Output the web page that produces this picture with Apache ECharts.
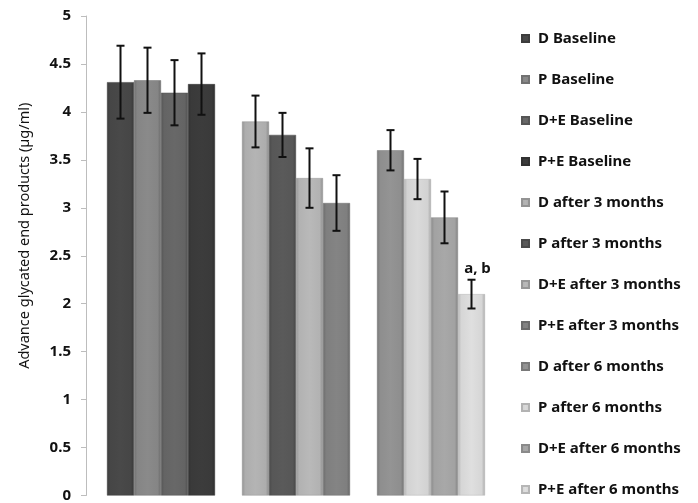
<!DOCTYPE html>
<html>
<head>
<meta charset="utf-8">
<script src="https://cdn.jsdelivr.net/npm/echarts@6/dist/echarts.min.js"></script>
<style>html,body{margin:0;padding:0;background:#fff}#c{width:698px;height:503px}</style>
</head>
<body>
<div id="c"></div>
<script>
// ---- data ----
const categories = ['Baseline', 'After 3 months', 'After 6 months'];
const seriesNames = [
  'D Baseline', 'P Baseline', 'D+E Baseline', 'P+E Baseline',
  'D after 3 months', 'P after 3 months', 'D+E after 3 months', 'P+E after 3 months',
  'D after 6 months', 'P after 6 months', 'D+E after 6 months', 'P+E after 6 months'
];
const means = [4.31, 4.33, 4.20, 4.29, 3.90, 3.76, 3.31, 3.05, 3.60, 3.30, 2.90, 2.10];
const errors = [0.38, 0.34, 0.34, 0.32, 0.27, 0.23, 0.31, 0.29, 0.21, 0.21, 0.27, 0.15];
const notes = ['', '', '', '', '', '', '', '', '', '', '', 'a, b'];
const yTicks = { min: 0, max: 5, interval: 0.5 };

// ---- style ----
const baseColors = ['#464646', '#858585', '#646464', '#3a3a3a',
                    '#adadad', '#575757', '#b2b2b2', '#7f7f7f',
                    '#8e8e8e', '#d2d2d2', '#a2a2a2', '#d6d6d6'];
function shade(hex, f) {
  const n = parseInt(hex.slice(1), 16);
  let r = (n >> 16) & 255, g = (n >> 8) & 255, b = n & 255;
  r = Math.max(0, Math.min(255, Math.round(r * f)));
  g = Math.max(0, Math.min(255, Math.round(g * f)));
  b = Math.max(0, Math.min(255, Math.round(b * f)));
  return 'rgb(' + r + ',' + g + ',' + b + ')';
}
function grad(hex) {
  return new echarts.graphic.LinearGradient(0, 0, 1, 0, [
    { offset: 0, color: shade(hex, 0.85) },
    { offset: 0.12, color: shade(hex, 1.0) },
    { offset: 0.5, color: shade(hex, 1.04) },
    { offset: 0.88, color: shade(hex, 1.0) },
    { offset: 1, color: shade(hex, 0.8) }
  ]);
}

const nGroup = 4;
const barSeries = seriesNames.map((name, i) => {
  const cat = Math.floor(i / nGroup);
  const slot = i % nGroup;
  const data = categories.map((c, j) => (j === cat ? means[i] : null));
  return {
    name: name,
    type: 'bar',
    stack: 'slot' + slot,
    data: data,
    barGap: '0%',
    barCategoryGap: '20%',
    itemStyle: { color: grad(baseColors[i]), borderColor: shade(baseColors[i], 0.85), borderWidth: 0.5 },
    emphasis: { disabled: true }
  };
});

const errData = seriesNames.map((n, i) => [Math.floor(i / nGroup), means[i], errors[i], i % nGroup, i]);

const errSeries = {
  type: 'custom',
  name: 'err',
  data: errData,
  z: 10,
  renderItem: function (params, api) {
    const cat = api.value(0), m = api.value(1), e = api.value(2), slot = api.value(3), idx = api.value(4);
    const c = api.coord([cat, m]);
    const catW = api.size([1, 0])[0];
    const barW = catW * 0.8 / nGroup;
    const x = c[0] + (slot - (nGroup - 1) / 2) * barW;
    const top = api.coord([cat, m + e])[1];
    const bot = api.coord([cat, m - e])[1];
    const cap = 4;
    const st = { stroke: '#111', lineWidth: 2 };
    const children = [
      { type: 'line', shape: { x1: x, y1: top, x2: x, y2: bot }, style: st },
      { type: 'line', shape: { x1: x - cap, y1: top, x2: x + cap, y2: top }, style: st },
      { type: 'line', shape: { x1: x - cap, y1: bot, x2: x + cap, y2: bot }, style: st }
    ];
    const note = notes[idx];
    if (note) {
      children.push({
        type: 'text',
        style: { text: note, x: x + 6, y: top - 3, textAlign: 'center', textVerticalAlign: 'bottom',
                 font: 'bold 15px "Noto Sans", Arial, sans-serif', fill: '#111' }
      });
    }
    return { type: 'group', children: children };
  }
};

const chart = echarts.init(document.getElementById('c'), null, { renderer: 'canvas' });
chart.setOption({
  animation: false,
  backgroundColor: '#fff',
  grid: { left: 93.5, right: 199.5, top: 16, bottom: 6, containLabel: false },
  legend: {
    orient: 'vertical',
    left: 521,
    top: 31,
    padding: 0,
    itemWidth: 7,
    itemHeight: 7,
    itemGap: 26,
    icon: 'rect',
    data: seriesNames,
    selectedMode: false,
    textStyle: { fontFamily: '"Noto Sans", Arial, sans-serif', fontWeight: 'bold', fontSize: 15, color: '#111', padding: [0, 0, 0, 4] }
  },
  xAxis: {
    type: 'category',
    data: categories,
    axisLine: { show: false },
    axisTick: { show: false },
    axisLabel: { show: false },
    splitLine: { show: false }
  },
  yAxis: {
    type: 'value',
    min: yTicks.min,
    max: yTicks.max,
    interval: yTicks.interval,
    offset: 7.5,
    name: 'Advance glycated end products (µg/ml)',
    nameLocation: 'middle',
    nameGap: 54,
    nameTextStyle: { fontFamily: '"Noto Sans", Arial, sans-serif', fontSize: 14.5, color: '#111', padding: [0, 0, 0, 40] },
    axisLine: { show: true, lineStyle: { color: '#bdbdbd', width: 1 } },
    axisTick: { show: true, length: 5, lineStyle: { color: '#bdbdbd' } },
    axisLabel: { margin: 15, fontFamily: '"Noto Sans", sans-serif', fontWeight: 'bold', fontSize: 15, color: '#111' },
    splitLine: { show: false }
  },
  series: barSeries.concat([errSeries])
});
</script>
</body>
</html>
